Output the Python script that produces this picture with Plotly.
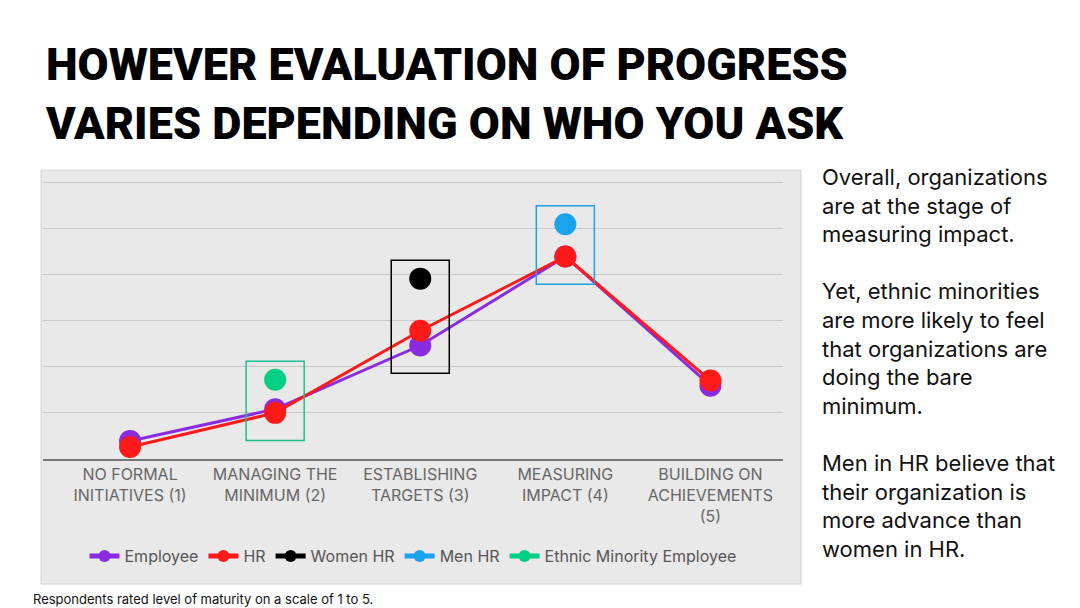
import plotly.graph_objects as go

categories = ["NO FORMAL<br>INITIATIVES (1)", "MANAGING THE<br>MINIMUM (2)", "ESTABLISHING<br>TARGETS (3)",
              "MEASURING<br>IMPACT (4)", "BUILDING ON<br>ACHIEVEMENTS<br>(5)"]
employee = [0.39, 1.08, 2.46, 4.39, 1.59]
hr = [0.26, 1.0, 2.78, 4.39, 1.70]
women_hr = [None, None, 3.91, None, None]
men_hr = [None, None, None, 5.09, None]
ethnic = [None, 1.72, None, None, None]

series = [("Employee", employee, "#8a2be2"), ("HR", hr, "#ff1a1a"),
          ("Women HR", women_hr, "#000000"), ("Men HR", men_hr, "#1aa3ec"),
          ("Ethnic Minority Employee", ethnic, "#00d084")]

fig = go.Figure()
for name, vals, col in series:
    fig.add_trace(go.Scatter(x=categories, y=vals, name=name, mode="lines+markers",
                             line=dict(color=col, width=3), marker=dict(size=22, color=col)))

# highlight boxes around the single-group points
boxes = [(1, [hr[1], ethnic[1]], "#1fbf8f"), (2, [employee[2], women_hr[2]], "#000000"),
         (3, [hr[3], men_hr[3]], "#1aa3ec")]
for i, ys, col in boxes:
    fig.add_shape(type="rect", xref="x", yref="y", x0=i - 0.2, x1=i + 0.2,
                  y0=min(ys) - 0.6, y1=max(ys) + 0.4, line=dict(color=col, width=1.5))

# chart panel background (pixels -> paper coords of a 740x286 plot area at l=35, t=165)
fig.add_shape(type="rect", xref="paper", yref="paper", x0=-2 / 740, x1=758 / 740,
              y0=-125 / 286, y1=1.01, fillcolor="#e9e9e9", line=dict(color="#d0d0d0", width=1),
              layer="below")

fig.add_annotation(text="HOWEVER EVALUATION OF PROGRESS<br>VARIES DEPENDING ON WHO YOU ASK",
                   xref="paper", yref="paper", x=0.0, y=1.48, xanchor="left", yanchor="top",
                   showarrow=False, align="left",
                   font=dict(family="Roboto", size=45, color="black", weight=900))
fig.add_annotation(text="Overall, organizations<br>are at the stage of<br>measuring impact.<br><br>"
                        "Yet, ethnic minorities<br>are more likely to feel<br>that organizations are<br>"
                        "doing the bare<br>minimum.<br><br>Men in HR believe that<br>their organization is<br>"
                        "more advance than<br>women in HR.",
                   xref="paper", yref="paper", x=777 / 740, y=1.04, xanchor="left", yanchor="top",
                   showarrow=False, align="left", font=dict(family="Inter", size=22, color="#111"))
fig.add_annotation(text="Respondents rated level of maturity on a scale of 1 to 5.",
                   xref="paper", yref="paper", x=-12 / 740, y=-140 / 286, xanchor="left",
                   yanchor="middle", showarrow=False, font=dict(family="Inter", size=13, color="#111"))

fig.update_layout(
    width=1080, height=608, paper_bgcolor="white", plot_bgcolor="rgba(0,0,0,0)",
    margin=dict(l=35, r=305, t=165, b=157, pad=0), showlegend=True,
    font=dict(family="Inter", color="#555"),
    legend=dict(orientation="h", x=0.5, xanchor="center", y=-97 / 286, yanchor="middle",
                font=dict(size=16, color="#555"), bgcolor="rgba(0,0,0,0)", itemsizing="constant"),
    xaxis=dict(showgrid=False, tickfont=dict(size=16, color="#666"), showline=True,
               linecolor="#777", linewidth=2, range=[-0.6, 4.5]),
    yaxis=dict(range=[0, 6.2], dtick=1, showticklabels=False, gridcolor="#c8c8c8",
               zeroline=False, fixedrange=True),
)
fig.write_html("out.html")
